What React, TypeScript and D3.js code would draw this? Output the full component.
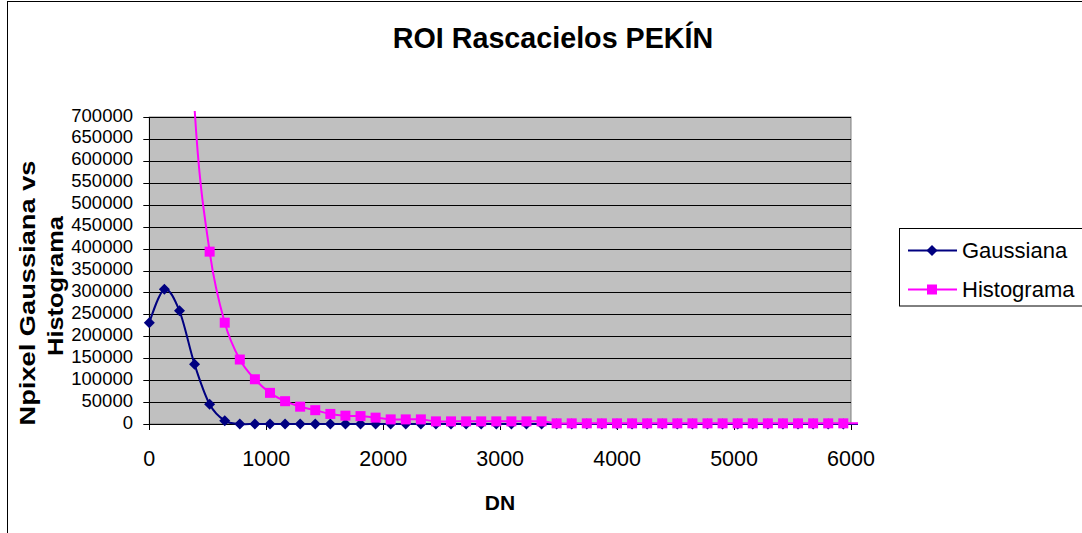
import React from "react";
import * as d3 from "d3";

const dn = [0, 129, 258, 387, 516, 645, 774, 903, 1032, 1161, 1290, 1419, 1548, 1677, 1806, 1935, 2064, 2193, 2322, 2451, 2580, 2709, 2838, 2967, 3096, 3225, 3354, 3483, 3612, 3741, 3870, 3999, 4128, 4257, 4386, 4515, 4644, 4773, 4902, 5031, 5160, 5289, 5418, 5547, 5676, 5805, 5934, 6063];
const gaussiana = [231000, 307000, 258000, 136000, 45000, 7600, 0, 0, 0, 0, 0, 0, 0, 0, 0, 0, 0, 0, 0, 0, 0, 0, 0, 0, 0, 0, 0, 0, 0, 0, 0, 0, 0, 0, 0, 0, 0, 0, 0, 0, 0, 0, 0, 0, 0, 0, 0, 0];
const histograma = [2500000, 2200000, 1500000, 720000, 393000, 231000, 147000, 102000, 71000, 52000, 39500, 31500, 23000, 19000, 18000, 14500, 10500, 10500, 10500, 6000, 6000, 6000, 6000, 6000, 6000, 6000, 6000, 1500, 1500, 1500, 1500, 1500, 1500, 1500, 1500, 1500, 1500, 1500, 1500, 1500, 1500, 1500, 1500, 1500, 1500, 1500, 1500, 1500];
const yTicks = [0, 50000, 100000, 150000, 200000, 250000, 300000, 350000, 400000, 450000, 500000, 550000, 600000, 650000, 700000];
const xTicks = [0, 1000, 2000, 3000, 4000, 5000, 6000];
const seriesNames = ["Gaussiana", "Histograma"];
const title = "ROI Rascacielos PEKÍN";
const xTitle = "DN";
const yTitle = ["Npixel Gaussiana vs", "Histograma"];

const FONT = "'Liberation Sans', Arial, Helvetica, sans-serif";

export default function App() {
  const x = d3.scaleLinear().domain([0, 6000]).range([149.3, 851]);
  const y = d3.scaleLinear().domain([0, 700000]).range([424, 117]);
  const [x0, x1] = x.range();
  const [yb, yt] = y.range();

  const line = d3
    .line<[number, number]>()
    .x((d) => x(d[0]))
    .y((d) => y(d[1]))
    .curve(d3.curveCatmullRom.alpha(0));

  const gPts: [number, number][] = dn.map((d, i) => [d, gaussiana[i]]);
  const hPts: [number, number][] = dn.map((d, i) => [d, histograma[i]]);
  const visible = (p: [number, number]) => p[0] <= 6000 && p[1] <= 700000;

  const diamond = (cx: number, cy: number, r: number) =>
    `M${cx},${cy - r}L${cx + r},${cy}L${cx},${cy + r}L${cx - r},${cy}Z`;

  const navy = "#000080";
  const pink = "#FF00FF";

  return (
    <svg
      width={1082}
      height={533}
      style={{ position: "absolute", left: 0, top: 0, background: "#fff" }}
      fontFamily={FONT}
    >
      <defs>
        <clipPath id="lineclip">
          <rect x={x0 - 6} y={yt - 6} width={x1 - x0 + 13} height={yb - yt + 12} />
        </clipPath>
      </defs>
      {/* chart border */}
      <rect x={7.5} y={1.5} width={1092} height={540} fill="#fff" stroke="#000" strokeWidth={1} />
      {/* title */}
      <text x={553} y={48} textAnchor="middle" fontSize={28.7} fontWeight="bold">
        {title}
      </text>
      {/* plot area */}
      <rect x={x0} y={yt} width={x1 - x0} height={yb - yt} fill="#C0C0C0" stroke="#808080" strokeWidth={1} />
      {yTicks.filter((t) => t > 0).map((t) => (
        <line key={"g" + t} x1={x0} x2={x1} y1={Math.round(y(t)) + 0.5} y2={Math.round(y(t)) + 0.5} stroke="#000" strokeWidth={1} />
      ))}
      {/* y axis */}
      <line x1={Math.round(x0) + 0.5} x2={Math.round(x0) + 0.5} y1={yt} y2={yb} stroke="#000" />
      {yTicks.map((t) => (
        <g key={"y" + t}>
          <line x1={x0 - 6} x2={x0} y1={Math.round(y(t)) + 0.5} y2={Math.round(y(t)) + 0.5} stroke="#000" />
          <text x={133} y={y(t) + 4.5} textAnchor="end" fontSize={18.5}>
            {t}
          </text>
        </g>
      ))}
      {/* x axis */}
      <line x1={x0} x2={x1} y1={Math.round(yb) + 0.5} y2={Math.round(yb) + 0.5} stroke="#000" />
      {xTicks.map((t) => (
        <g key={"x" + t}>
          <line x1={Math.round(x(t)) + 0.5} x2={Math.round(x(t)) + 0.5} y1={yb} y2={yb + 6} stroke="#000" />
          <text x={x(t)} y={466} textAnchor="middle" fontSize={21.5}>
            {t}
          </text>
        </g>
      ))}
      {/* axis titles */}
      <text x={500} y={510} textAnchor="middle" fontSize={21} fontWeight="bold">
        {xTitle}
      </text>
      <text
        transform="translate(35,293) rotate(-90)"
        textAnchor="middle"
        fontSize={22}
        fontWeight="bold"
        textLength={265}
        lengthAdjust="spacingAndGlyphs"
      >
        {yTitle[0]}
      </text>
      <text
        transform="translate(63,286) rotate(-90)"
        textAnchor="middle"
        fontSize={22}
        fontWeight="bold"
        textLength={140}
        lengthAdjust="spacingAndGlyphs"
      >
        {yTitle[1]}
      </text>
      {/* series */}
      <g clipPath="url(#lineclip)">
        <path d={line(gPts) || ""} fill="none" stroke={navy} strokeWidth={2} />
      </g>
      {gPts.filter(visible).map((p, i) => (
        <path key={"gd" + i} d={diamond(x(p[0]), y(p[1]), 5.5)} fill={navy} />
      ))}
      <g clipPath="url(#lineclip)">
        <path d={line(hPts) || ""} fill="none" stroke={pink} strokeWidth={2} />
      </g>
      {hPts.filter(visible).map((p, i) => (
        <rect key={"hs" + i} x={x(p[0]) - 5} y={y(p[1]) - 5} width={10} height={10} fill={pink} />
      ))}
      {/* legend */}
      <rect x={899.5} y={228.5} width={190} height={77.5} fill="#fff" stroke="#000" />
      <line x1={908} x2={957} y1={250.5} y2={250.5} stroke={navy} strokeWidth={2} />
      <path d={diamond(932, 250.5, 5.5)} fill={navy} />
      <text x={962} y={258} fontSize={22}>
        {seriesNames[0]}
      </text>
      <line x1={908} x2={957} y1={289.5} y2={289.5} stroke={pink} strokeWidth={2} />
      <rect x={927} y={284.5} width={10} height={10} fill={pink} />
      <text x={962} y={297} fontSize={22}>
        {seriesNames[1]}
      </text>
    </svg>
  );
}
